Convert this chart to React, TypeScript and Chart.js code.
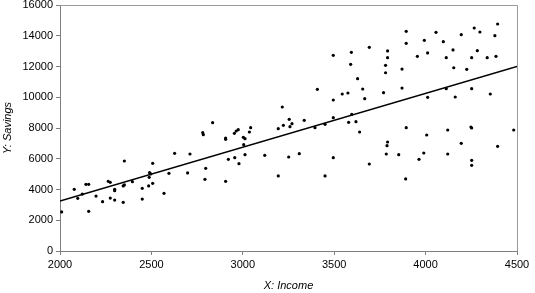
import { useEffect, useRef } from "react";
import { Chart, registerables } from "chart.js";

Chart.register(...registerables);

const incomeX: number[] = [
  2009, 2078, 2097, 2122, 2142, 2157, 2157, 2197, 2233, 2264, 2275, 2275, 2299, 2299, 2299, 2346, 2352, 2352, 2346, 2396,
  2450, 2450, 2488, 2490, 2496, 2485, 2507, 2507, 2569, 2596, 2627, 2698, 2711, 2781, 2784, 2793, 2797, 2835,
  2906, 2906, 2921, 2906, 2954, 2964, 2975, 2956, 2979, 3003, 3012, 3005, 3012, 3036, 3043, 3120, 3194, 3194,
  3216, 3222, 3254, 3258, 3269, 3251, 3309, 3336, 3395, 3408, 3450, 3450, 3495, 3495, 3495, 3495, 3544, 3575,
  3594, 3590, 3628, 3656, 3667, 3579, 3619, 3639, 3596, 3692, 3692,
  3792, 3792, 3781, 3781, 3770, 3792, 3789, 3785, 3853, 3871, 3871, 3894, 3894, 3894, 3891, 3955, 3964, 3990,
  3993, 4011, 4011, 4006, 4057, 4097, 4113, 4113, 4121, 4121, 4150, 4154, 4162, 4195, 4195, 4225, 4252, 4252,
  4248, 4252, 4252, 4252, 4266, 4283, 4297, 4337, 4354, 4379, 4385, 4394, 4394, 4482,
];

const savingsY: number[] = [
  2540, 4010, 3425, 3705, 4335, 4335, 2580, 3575, 3210, 4530, 4465, 3445, 4010, 3925, 3315, 4230, 4295, 5855, 3165, 4510,
  4075, 3380, 4790, 5095, 5010, 4230, 5700, 4400, 3750, 5050, 6350, 5075, 6310, 7695, 7565, 4660, 5375, 8345,
  7350, 7265, 5965, 4530, 7655, 7805, 7890, 6070, 5680, 7395, 7305, 6915, 6265, 7740, 8020, 6220, 7955, 4880,
  9365, 8175, 8565, 8085, 8280, 6115, 6330, 8500, 8020, 10515, 8240, 4880, 12725, 9820, 8670, 6070, 10210, 10275,
  12920, 12140, 11205, 10535, 9905, 8370, 8410, 7740, 8890, 13250, 5660,
  13010, 12575, 12075, 11595, 10295, 7090, 6850, 6310, 6265, 11835, 10600, 14290, 13510, 8020, 4685, 12660, 5965, 6375,
  13705, 12880, 9995, 7545, 14225, 13615, 12575, 10555, 7870, 6310, 13075, 11920, 10015, 14070, 7005, 11815, 12575, 10555,
  8065, 8000, 5900, 5575, 14505, 13030, 14245, 12575, 10210, 14005, 12660, 14765, 6810, 7870,
];

const trendX: number[] = [2000, 4500];
const trendY: number[] = [3250, 12000];

const xTicks: number[] = [2000, 2500, 3000, 3500, 4000, 4500];
const yTicks: number[] = [0, 2000, 4000, 6000, 8000, 10000, 12000, 14000, 16000];

const FONT = "'Liberation Sans', Arial, sans-serif";

const frame = {
  id: "frame",
  afterDatasetsDraw(chart: any) {
    const { ctx, chartArea } = chart;
    ctx.save();
    ctx.strokeStyle = "#9a9a9a";
    ctx.lineWidth = 1;
    ctx.beginPath();
    ctx.moveTo(chartArea.left, chartArea.top + 0.5);
    ctx.lineTo(chartArea.right + 0.5, chartArea.top + 0.5);
    ctx.lineTo(chartArea.right + 0.5, chartArea.bottom);
    ctx.stroke();
    ctx.restore();
  },
};

export default function App() {
  const ref = useRef<HTMLCanvasElement | null>(null);

  useEffect(() => {
    if (!ref.current) return;
    const chart = new Chart(ref.current, {
      type: "scatter",
      data: {
        datasets: [
          {
            type: "scatter",
            data: incomeX.map((x, i) => ({ x, y: savingsY[i] })),
            backgroundColor: "#000",
            borderWidth: 0,
            pointRadius: 1.6,
          },
          {
            type: "line",
            data: trendX.map((x, i) => ({ x, y: trendY[i] })),
            borderColor: "#000",
            borderWidth: 1.5,
            pointRadius: 0,
            fill: false,
          } as any,
        ],
      },
      options: {
        animation: false,
        responsive: false,
        events: [],
        layout: { padding: { top: 5, right: 18, left: 0, bottom: 0 } },
        plugins: { legend: { display: false }, tooltip: { enabled: false } },
        scales: {
          x: {
            type: "linear",
            min: xTicks[0],
            max: xTicks[xTicks.length - 1],
            afterBuildTicks: (s: any) => {
              s.ticks = xTicks.map((v) => ({ value: v }));
            },
            afterFit: (s: any) => {
              s.height = 42;
              s.paddingLeft = 0;
              s.paddingRight = 0;
            },
            grid: { drawOnChartArea: false, drawTicks: true, tickLength: 4, color: "#808080" },
            border: { display: true, color: "#808080", width: 1 },
            ticks: {
              color: "#000",
              padding: 3,
              font: { family: FONT, size: 11 },
              callback: (v: any) => String(v),
            },
            title: {
              display: true,
              text: "X: Income",
              color: "#000",
              font: { family: FONT, size: 11, style: "italic" },
              padding: { top: 0, bottom: 0 },
            },
          },
          y: {
            type: "linear",
            min: yTicks[0],
            max: yTicks[yTicks.length - 1],
            afterBuildTicks: (s: any) => {
              s.ticks = yTicks.map((v) => ({ value: v }));
            },
            afterFit: (s: any) => {
              s.width = 60;
              s.paddingTop = 0;
              s.paddingBottom = 0;
            },
            grid: { drawOnChartArea: false, drawTicks: true, tickLength: 4, color: "#808080" },
            border: { display: true, color: "#808080", width: 1 },
            ticks: {
              color: "#000",
              padding: 3,
              font: { family: FONT, size: 11 },
              callback: (v: any) => String(v),
            },
            title: {
              display: true,
              text: "Y: Savings",
              color: "#000",
              font: { family: FONT, size: 11, style: "italic" },
              padding: { top: 1, bottom: 0 },
            },
          },
        },
      },
      plugins: [frame],
    });
    return () => chart.destroy();
  }, []);

  return (
    <div style={{ position: "absolute", left: 0, top: 0, width: 535, height: 293, background: "#fff" }}>
      <canvas ref={ref} width={535} height={293} style={{ display: "block" }} />
    </div>
  );
}
